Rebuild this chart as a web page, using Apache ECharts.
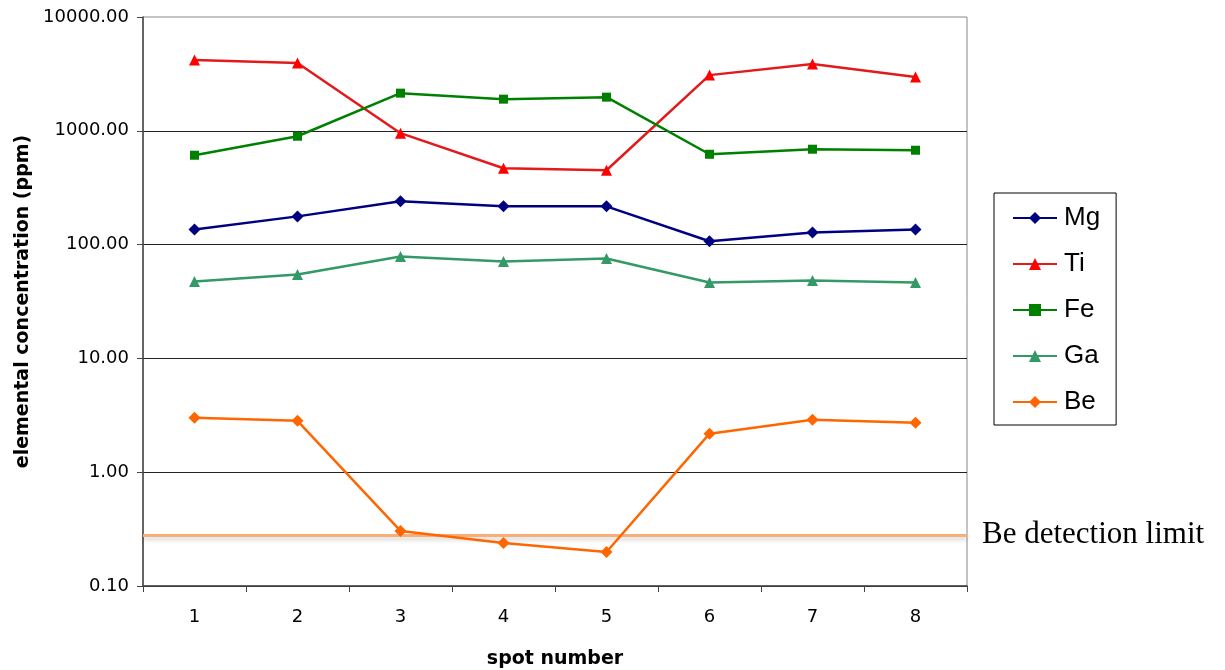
<!DOCTYPE html>
<html>
<head>
<meta charset="utf-8">
<script src="https://cdn.jsdelivr.net/npm/echarts@6/dist/echarts.min.js"></script>
<style>
html,body{margin:0;padding:0;background:#fff;}
#chart{width:1225px;height:670px;}
</style>
</head>
<body>
<div id="chart"></div>
<script>
var spots = ['1','2','3','4','5','6','7','8'];
var mg = [136, 177, 240, 217, 217, 107, 128, 136];
var ti = [4180, 3940, 953, 469, 450, 3085, 3855, 2965];
var fe = [610, 896, 2142, 1897, 1976, 622, 689, 675];
var ga = [47.4, 54.7, 78.7, 71.1, 75.5, 46.5, 48.4, 46.5];
var be = [3.01, 2.83, 0.305, 0.239, 0.199, 2.18, 2.89, 2.72];
var beLimit = 0.275;
var beLimitLabel = 'Be detection limit';

function mkSeries(name, data, color, symbol, size) {
  return {
    name: name, type: 'line', data: data,
    symbol: symbol, symbolSize: size,
    itemStyle: {color: color},
    lineStyle: {color: color, width: 2.5},
    emphasis: {disabled: true},
    z: 3
  };
}

var series = [
  mkSeries('Mg', mg, '#000080', 'diamond', 12),
  mkSeries('Ti', ti, '#FF0000', 'triangle', 11),
  mkSeries('Fe', fe, '#008000', 'rect', 9),
  mkSeries('Ga', ga, '#339966', 'triangle', 11),
  mkSeries('Be', be, '#FF6600', 'diamond', 12)
];
series[1].lineStyle.color = '#E31A1C';
series[4].markLine = {
  silent: true,
  symbol: ['none', 'none'],
  data: [{yAxis: beLimit}],
  lineStyle: {color: '#F9AE77', width: 3, type: 'solid',
    shadowColor: 'rgba(0,0,0,0.18)', shadowBlur: 4, shadowOffsetY: 3},
  label: {show: true, position: 'end', distance: 15, formatter: beLimitLabel,
    fontFamily: 'Liberation Serif', fontSize: 31, color: '#000'},
  z: 1
};

var chart = echarts.init(document.getElementById('chart'));
chart.setOption({
  animation: false,
  backgroundColor: '#fff',
  grid: {left: 143, right: 258, top: 17, bottom: 84, show: true,
    borderColor: '#888', borderWidth: 1, containLabel: false, outerBoundsMode: 'none'},
  legend: {
    orient: 'vertical', left: 994, top: 193,
    data: ['Mg','Ti','Fe','Ga','Be'],
    itemWidth: 44, itemHeight: 15, itemGap: 20,
    padding: [12, 16, 10, 18],
    borderColor: '#000', borderWidth: 1,
    textStyle: {fontFamily: 'Liberation Sans', fontSize: 26, color: '#000', lineHeight: 26, padding: [0,0,0,2]}
  },
  xAxis: {
    type: 'category', data: spots, boundaryGap: true,
    name: 'spot number', nameLocation: 'middle', nameGap: 64,
    nameTextStyle: {fontFamily: 'DejaVu Sans', fontWeight: 'bold', fontSize: 19, color: '#000'},
    axisLine: {lineStyle: {color: '#444', width: 1.5}},
    axisTick: {show: true, inside: false, length: 6, lineStyle: {color: '#444'}},
    axisLabel: {margin: 22, fontFamily: 'DejaVu Sans', fontSize: 18, color: '#000'},
    splitLine: {show: false}
  },
  yAxis: {
    type: 'log', logBase: 10, min: 0.1, max: 10000,
    name: 'elemental concentration (ppm)', nameLocation: 'middle', nameGap: 106,
    nameTextStyle: {fontFamily: 'DejaVu Sans', fontWeight: 'bold', fontSize: 19, color: '#000'},
    axisLine: {show: true, lineStyle: {color: '#444', width: 1.5}},
    axisTick: {show: true, inside: false, length: 6, lineStyle: {color: '#444'}},
    axisLabel: {margin: 14, fontFamily: 'DejaVu Sans', fontSize: 18, color: '#000',
      formatter: function (v) { return Number(v).toFixed(2); }},
    splitLine: {show: true, showMaxLine: false, lineStyle: {color: '#222', width: 1}},
    minorTick: {show: false}, minorSplitLine: {show: false}
  },
  series: series
});
</script>
</body>
</html>
